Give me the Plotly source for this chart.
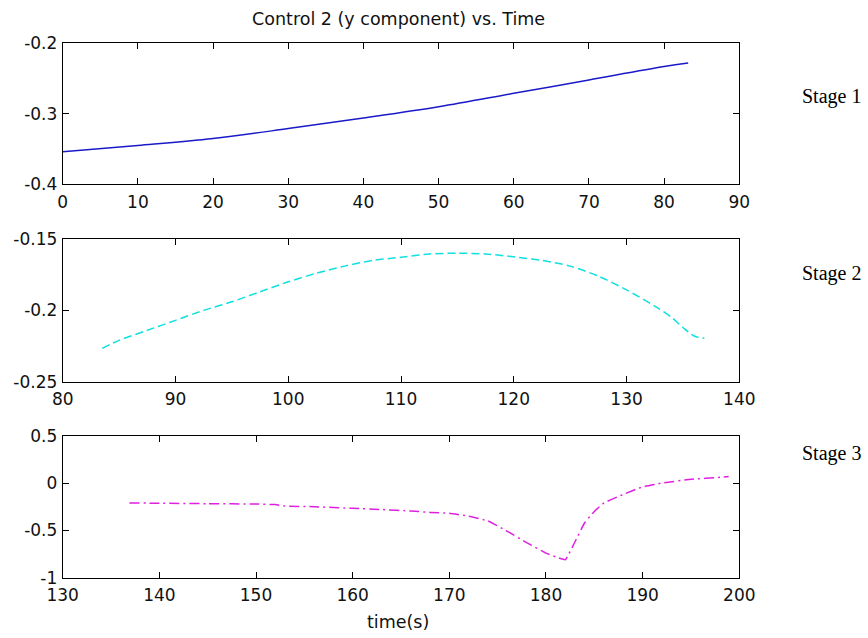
import plotly.graph_objects as go

W, H = 868, 638

# ---- data ----
t1 = [0, 10, 20, 30, 40, 50, 60, 70, 80, 83.2]
u1 = [-0.354, -0.345, -0.335, -0.321, -0.306, -0.290, -0.271, -0.252, -0.233, -0.228]

t2 = [83.5, 85, 87.5, 90, 92.5, 95, 97.5, 100, 102.5, 105, 107.5, 110, 112.5, 115,
      117.5, 120, 122.5, 125, 127.5, 130, 132.5, 134, 135, 136, 136.9]
u2 = [-0.2266, -0.221, -0.214, -0.207, -0.200, -0.194, -0.187, -0.180, -0.174, -0.169,
      -0.165, -0.1628, -0.1605, -0.160, -0.1605, -0.1625, -0.165, -0.169, -0.176, -0.1857,
      -0.197, -0.205, -0.212, -0.218, -0.2196]

t3 = [136.9, 140, 145, 150, 152, 153, 156, 160, 163, 166, 168, 170, 172, 174, 176, 178,
      180, 181, 182, 183, 184, 185, 186, 188, 190, 192, 195, 198, 198.9]
u3 = [-0.21, -0.214, -0.218, -0.222, -0.228, -0.243, -0.25, -0.267, -0.28, -0.295, -0.31,
      -0.32, -0.35, -0.40, -0.51, -0.63, -0.74, -0.78, -0.81, -0.62, -0.42, -0.30, -0.21,
      -0.12, -0.04, 0.0, 0.04, 0.06, 0.07]

x1_ticks = [0, 10, 20, 30, 40, 50, 60, 70, 80, 90]
x2_ticks = [80, 90, 100, 110, 120, 130, 140]
x3_ticks = [130, 140, 150, 160, 170, 180, 190, 200]
y1_ticks = [-0.4, -0.3, -0.2]
y1_text = ["-0.4", "-0.3", "-0.2"]
y2_ticks = [-0.25, -0.2, -0.15]
y2_text = ["-0.25", "-0.2", "-0.15"]
y3_ticks = [-1, -0.5, 0, 0.5]
y3_text = ["-1", "-0.5", "0", "0.5"]

title_text = "Control 2 (y component) vs. Time"
xlabel_text = "time(s)"
stage_labels = ["Stage 1", "Stage 2", "Stage 3"]

# ---- layout geometry (pixels) ----
left, right = 62.7, 739.3
panels = [(43.3, 184.3), (239.0, 381.7), (435.7, 577.7)]

def px_x(p):
    return p / W

def px_y(p):
    return 1 - p / H

SANS = "DejaVu Sans, Arial, sans-serif"
SERIF = "Liberation Serif, Times New Roman, serif"

fig = go.Figure()
fig.add_trace(go.Scatter(x=t1, y=u1, mode="lines", xaxis="x", yaxis="y",
                         line=dict(color="#1a1ac8", width=1.5, shape="spline", smoothing=1),
                         showlegend=False))
fig.add_trace(go.Scatter(x=t2, y=u2, mode="lines", xaxis="x2", yaxis="y2",
                         line=dict(color="#10e0e0", width=1.5, dash="8px,4px",
                                   shape="spline", smoothing=0.8),
                         showlegend=False))
fig.add_trace(go.Scatter(x=t3, y=u3, mode="lines", xaxis="x3", yaxis="y3",
                         line=dict(color="#e020e0", width=1.5, dash="10px,4px,2px,4px",
                                   shape="spline", smoothing=0.3),
                         showlegend=False))

tickfont = dict(family=SANS, size=17, color="#111111")
common = dict(showline=True, linecolor="black", linewidth=1, mirror="ticks",
              ticks="inside", ticklen=6, tickcolor="black", showgrid=False,
              zeroline=False, tickfont=tickfont, automargin=False)

xr = [[0, 90], [80, 140], [130, 200]]
yr = [[-0.4, -0.2], [-0.25, -0.15], [-1, 0.5]]
xt = [x1_ticks, x2_ticks, x3_ticks]
yt = [(y1_ticks, y1_text), (y2_ticks, y2_text), (y3_ticks, y3_text)]

layout = dict(width=W, height=H, margin=dict(l=0, r=0, t=0, b=0),
              paper_bgcolor="white", plot_bgcolor="white")
for i in range(3):
    sfx = "" if i == 0 else str(i + 1)
    top, bot = panels[i]
    layout["xaxis" + sfx] = dict(common, domain=[px_x(left), px_x(right)], range=xr[i],
                                 tickvals=xt[i], ticktext=[str(v) for v in xt[i]],
                                 anchor="y" + sfx, ticklabelstandoff=2)
    layout["yaxis" + sfx] = dict(common, domain=[px_y(bot), px_y(top)], range=yr[i],
                                 tickvals=yt[i][0], ticktext=yt[i][1],
                                 anchor="x" + sfx, ticklabelstandoff=1)
fig.update_layout(**layout)

ann = [
    dict(text=title_text, x=px_x(398), y=px_y(19), xref="paper", yref="paper",
         showarrow=False, xanchor="center", yanchor="middle",
         font=dict(family=SANS, size=17.5, color="#111111")),
    dict(text=xlabel_text, x=px_x(398), y=px_y(622), xref="paper", yref="paper",
         showarrow=False, xanchor="center", yanchor="middle",
         font=dict(family=SANS, size=17.5, color="#111111")),
]
stage_y = [96, 273, 453]
for lab, yy in zip(stage_labels, stage_y):
    ann.append(dict(text=lab, x=px_x(800), y=px_y(yy), xref="paper", yref="paper",
                    showarrow=False, xanchor="left", yanchor="middle",
                    font=dict(family=SERIF, size=20, color="black")))
fig.update_layout(annotations=ann)

fig.write_html("out.html")
